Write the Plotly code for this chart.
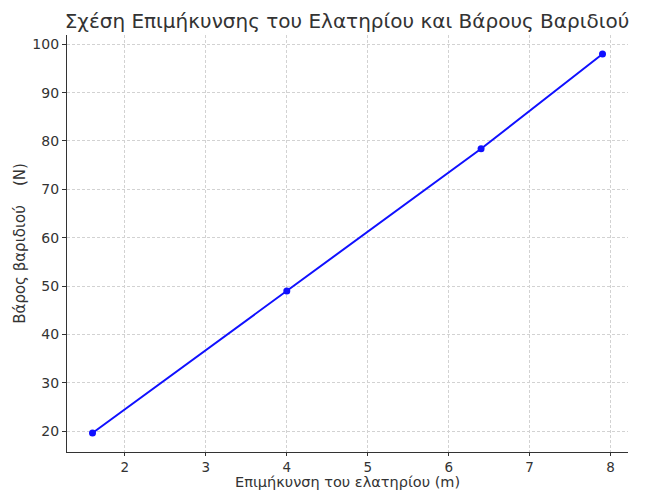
import plotly.graph_objects as go

extension_m = [1.6, 4.0, 6.4, 7.9]
weight_N = [19.6, 49.0, 78.4, 98.0]
x_ticks = [2, 3, 4, 5, 6, 7, 8]
y_ticks = [20, 30, 40, 50, 60, 70, 80, 90, 100]

title_text = "Σχέση Επιμήκυνσης του Ελατηρίου και Βάρους Βαριδιού"
x_label = "Επιμήκυνση του ελατηρίου (m)"
y_label = "Βάρος βαριδιού\u00a0\u00a0\u00a0\u00a0(N)"

FONT = "DejaVu Sans"
TXT = "#333333"

fig = go.Figure(
    go.Scatter(
        x=extension_m, y=weight_N, mode="lines+markers",
        line=dict(color="#1010ff", width=2),
        marker=dict(color="#1010ff", size=7),
    )
)

fig.update_layout(
    width=639, height=482,
    margin=dict(l=59, r=19, t=27, b=38),
    paper_bgcolor="white", plot_bgcolor="white",
    showlegend=False,
    font=dict(family=FONT, size=14, color=TXT),
    title=dict(text=title_text, x=0.5305, xanchor="center", y=0.973, yanchor="middle",
               font=dict(family=FONT, size=20, color=TXT)),
    annotations=[dict(
        text=x_label, xref="paper", yref="paper", x=0.5, y=-0.0725,
        xanchor="center", yanchor="middle", showarrow=False,
        font=dict(family=FONT, size=14.5, color=TXT),
    )],
)

fig.update_xaxes(
    range=[1.285, 8.215], tickvals=x_ticks, ticktext=[str(v) for v in x_ticks],
    showline=True, linecolor="#333333", linewidth=1.2,
    ticks="outside", ticklen=3, tickcolor="#333333",
    showgrid=True, gridcolor="#d2d2d2", griddash="3px,2px", gridwidth=1,
    zeroline=False, mirror=False, automargin=False,
    tickfont=dict(family=FONT, size=13.5, color=TXT),
)
fig.update_yaxes(
    range=[15.68, 101.92], tickvals=y_ticks, ticktext=[str(v) for v in y_ticks],
    showline=True, linecolor="#333333", linewidth=1.2,
    ticks="outside", ticklen=4, tickcolor="#333333",
    showgrid=True, gridcolor="#d2d2d2", griddash="3px,2px", gridwidth=1,
    zeroline=False, mirror=False, automargin=False,
    title=dict(text=y_label, font=dict(family=FONT, size=15, color=TXT), standoff=3),
    tickfont=dict(family=FONT, size=14, color=TXT),
)

fig.write_html("out.html")
